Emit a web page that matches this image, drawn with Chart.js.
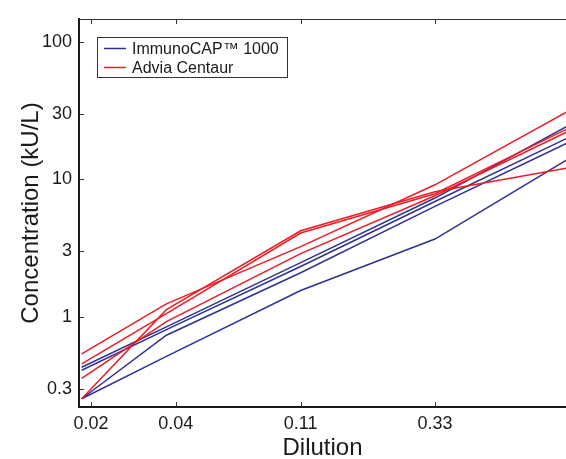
<!DOCTYPE html>
<html><head><meta charset="utf-8">
<script src="https://cdn.jsdelivr.net/npm/chart.js@4"></script>
<style>html,body{margin:0;padding:0;background:#fff;}canvas{display:block;}</style>
</head><body>
<canvas id="c" width="566" height="459"></canvas>
<script>
// ---- data ----
const dilutions = [0.01852, 0.03704, 0.1111, 0.3333, 1];
const xTickValues = [0.02, 0.04, 0.1111, 0.3333];
const xTickLabels = ['0.02', '0.04', '0.11', '0.33'];
const yTickValues = [0.3, 1, 3, 10, 30, 100];
const yTickLabels = ['0.3', '1', '3', '10', '30', '100'];
const seriesNames = ['ImmunoCAP™ 1000', 'Advia Centaur'];
const seriesColors = ['#2e3192', '#ed1c24'];

const immunoCapA = [0.432, 0.849, 2.49, 7.33, 24.8];
const immunoCapB = [0.411, 0.811, 2.33, 6.92, 20.3];
const immunoCapC = [0.255, 0.738, 2.10, 6.37, 18.7];
const immunoCapD = [0.255, 0.519, 1.56, 3.69, 14.2];

const adviaA = [0.541, 1.247, 3.25, 9.15, 31.7];
const adviaB = [0.457, 1.06, 4.08, 7.87, 23.7];
const adviaC = [0.358, 0.927, 2.89, 7.62, 22.6];
const adviaD = [0.255, 1.133, 4.24, 8.14, 12.2];

const immunoSeries = [immunoCapA, immunoCapB, immunoCapC, immunoCapD];
const adviaSeries = [adviaA, adviaB, adviaC, adviaD];

const FONT = "'Liberation Sans', Arial, sans-serif";

function mk(values, idx) {
  return {
    label: seriesNames[idx],
    data: values.map((v, i) => ({ x: dilutions[i], y: v })),
    borderColor: seriesColors[idx],
    backgroundColor: seriesColors[idx],
    borderWidth: 1.5,
    pointRadius: 0,
    tension: 0,
    fill: false
  };
}

const datasets = [
  ...adviaSeries.map(s => mk(s, 1)),
  ...immunoSeries.map(s => mk(s, 0))
];

const framePlugin = {
  id: 'frame',
  afterDatasetsDraw(chart) {
    const { ctx, chartArea: a, scales: { x, y } } = chart;
    ctx.save();
    ctx.strokeStyle = '#333';
    ctx.lineWidth = 1;
    ctx.beginPath();
    ctx.moveTo(a.left, a.top + 0.5);
    ctx.lineTo(a.right, a.top + 0.5);
    ctx.stroke();
    ctx.beginPath();
    xTickValues.forEach(v => {
      const px = Math.round(x.getPixelForValue(v)) + 0.5;
      ctx.moveTo(px, a.bottom); ctx.lineTo(px, a.bottom - 5);
      ctx.moveTo(px, a.top); ctx.lineTo(px, a.top + 5);
    });
    yTickValues.forEach(v => {
      const py = Math.round(y.getPixelForValue(v)) + 0.5;
      ctx.moveTo(a.left, py); ctx.lineTo(a.left + 5, py);
    });
    ctx.stroke();

    // legend box
    const lx = 97, ly = 37, lw = 190, lh = 40;
    ctx.fillStyle = '#fff';
    ctx.fillRect(lx, ly, lw, lh);
    ctx.strokeStyle = '#333';
    ctx.lineWidth = 1;
    ctx.strokeRect(lx + 0.5, ly + 0.5, lw, lh);
    ctx.font = '16px ' + FONT;
    ctx.textBaseline = 'middle';
    ctx.textAlign = 'left';
    seriesNames.forEach((name, i) => {
      const yy = ly + 11.5 + i * 19;
      ctx.strokeStyle = seriesColors[i];
      ctx.lineWidth = 1.5;
      ctx.beginPath();
      ctx.moveTo(lx + 7, yy); ctx.lineTo(lx + 29, yy);
      ctx.stroke();
      ctx.fillStyle = '#1a1a1a';
      ctx.fillText(name, lx + 35, yy + 1);
    });
    ctx.restore();
  }
};

new Chart(document.getElementById('c'), {
  type: 'line',
  data: { datasets },
  plugins: [framePlugin],
  options: {
    responsive: false,
    animation: false,
    devicePixelRatio: 1,
    layout: { padding: { top: 19, left: 0, right: 0, bottom: 0 } },
    plugins: { legend: { display: false }, tooltip: { enabled: false } },
    scales: {
      x: {
        type: 'logarithmic',
        bounds: 'data',
        min: 0.01812,
        max: 0.974,
        grid: { display: false, drawTicks: false },
        border: { display: true, color: '#1a1a1a', width: 2 },
        afterBuildTicks: ax => { ax.ticks = xTickValues.map(v => ({ value: v })); },
        afterFit: ax => { ax.height = 52; },
        ticks: {
          autoSkip: false, maxRotation: 0, minRotation: 0, padding: 6,
          color: '#1a1a1a', font: { size: 18, family: FONT },
          callback: (v, i) => xTickLabels[i]
        },
        title: {
          display: true, text: 'Dilution', color: '#1a1a1a',
          font: { size: 24, family: FONT },
          padding: { top: 0, bottom: -4 }
        }
      },
      y: {
        type: 'logarithmic',
        bounds: 'data',
        min: 0.2222,
        max: 146.6,
        grid: { display: false, drawTicks: false },
        border: { display: true, color: '#1a1a1a', width: 2 },
        afterBuildTicks: ax => { ax.ticks = yTickValues.map(v => ({ value: v })); },
        afterFit: ax => { ax.width = 79; },
        ticks: {
          autoSkip: false, padding: 7,
          color: '#1a1a1a', font: { size: 18, family: FONT },
          callback: (v, i) => yTickLabels[i]
        },
        title: {
          display: true, text: 'Concentration (kU/L)', color: '#1a1a1a',
          font: { size: 24, family: FONT },
          padding: { top: 17, bottom: 0 }
        }
      }
    }
  }
});
</script>
</body></html>
